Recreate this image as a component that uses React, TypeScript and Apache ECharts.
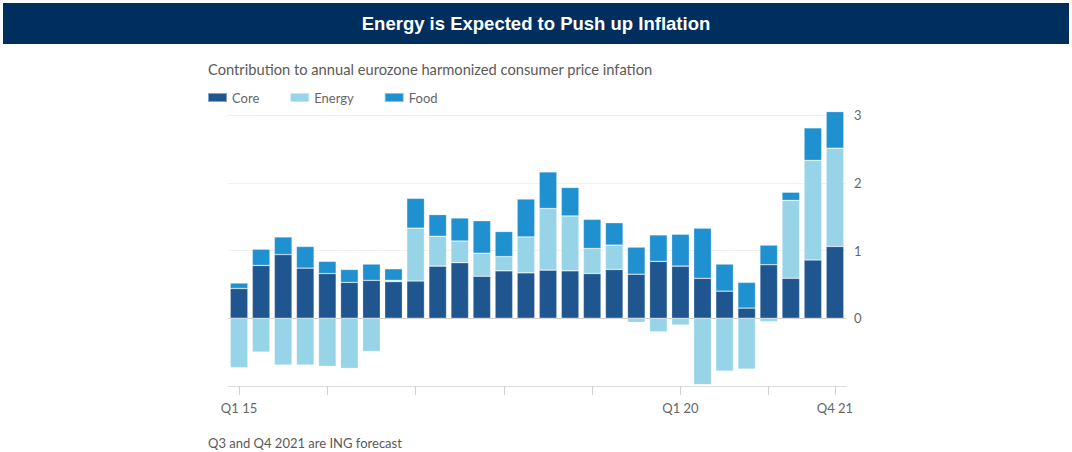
import React, { useEffect, useRef } from "react";
import * as echarts from "echarts";

const categories = [
  "Q1 15", "Q2 15", "Q3 15", "Q4 15",
  "Q1 16", "Q2 16", "Q3 16", "Q4 16",
  "Q1 17", "Q2 17", "Q3 17", "Q4 17",
  "Q1 18", "Q2 18", "Q3 18", "Q4 18",
  "Q1 19", "Q2 19", "Q3 19", "Q4 19",
  "Q1 20", "Q2 20", "Q3 20", "Q4 20",
  "Q1 21", "Q2 21", "Q3 21", "Q4 21",
];

const core = [0.44, 0.78, 0.94, 0.74, 0.66, 0.53, 0.56, 0.54, 0.55, 0.77, 0.82, 0.62, 0.70, 0.67, 0.71, 0.70, 0.66, 0.72, 0.65, 0.84, 0.77, 0.59, 0.40, 0.15, 0.79, 0.59, 0.86, 1.06];
const energy = [-0.73, -0.50, -0.69, -0.69, -0.71, -0.74, -0.49, 0.02, 0.78, 0.44, 0.32, 0.34, 0.21, 0.53, 0.91, 0.81, 0.37, 0.36, -0.06, -0.20, -0.10, -0.98, -0.78, -0.75, -0.05, 1.15, 1.47, 1.45];
const food = [0.08, 0.24, 0.26, 0.32, 0.18, 0.19, 0.24, 0.17, 0.44, 0.32, 0.34, 0.48, 0.37, 0.56, 0.54, 0.42, 0.43, 0.33, 0.40, 0.39, 0.47, 0.74, 0.40, 0.38, 0.29, 0.12, 0.48, 0.54];

const yTicks = [-1, 0, 1, 2, 3];
const tickIdx = [0, 4, 8, 12, 16, 20, 24, 27];
const labelIdx = [0, 20, 27];

const TITLE = "Energy is Expected to Push up Inflation";
const SUBTITLE = "Contribution to annual eurozone harmonized consumer price infation";
const FOOTNOTE = "Q3 and Q4 2021 are ING forecast";

const COLORS = { core: "#1f568f", energy: "#97d4e8", food: "#1f90d0" };
const FONT = "Lato, 'Open Sans', sans-serif";

export default function App() {
  const ref = useRef<HTMLDivElement>(null);
  useEffect(() => {
    if (!ref.current) return;
    const chart = echarts.init(ref.current, null, { renderer: "svg" });
    const barStyle = (c: string) => ({
      color: c,
      borderColor: "rgba(255,255,255,0.45)",
      borderWidth: 0.6,
    });
    chart.setOption({
      animation: false,
      textStyle: { fontFamily: FONT },
      graphic: [
        { type: "rect", shape: { x: 3, y: 3, width: 1066, height: 41 }, style: { fill: "#002e5d" } },
        {
          type: "text", x: 536, y: 23.5,
          style: { text: TITLE, fill: "#ffffff", font: "bold 18.5px 'Liberation Sans', Arial, sans-serif", align: "center", verticalAlign: "middle" },
        },
        {
          type: "text", x: 208, y: 69,
          style: { text: SUBTITLE, fill: "#5a5a5a", font: `14.7px ${FONT}`, verticalAlign: "middle" },
        },
        {
          type: "text", x: 208, y: 443,
          style: { text: FOOTNOTE, fill: "#5a5a5a", font: `13px ${FONT}`, verticalAlign: "middle" },
        },
      ],
      legend: {
        left: 207, top: 91, padding: 0,
        icon: "rect", itemWidth: 19, itemHeight: 9, itemGap: 30,
        textStyle: { color: "#666666", fontSize: 13, fontFamily: FONT },
        data: ["Core", "Energy", "Food"],
      },
      grid: { left: 228, right: 226, top: 115, bottom: 66 },
      xAxis: {
        type: "category",
        data: categories,
        boundaryGap: true,
        axisLine: { onZero: false, lineStyle: { color: "#e0dcd8", width: 1 } },
        axisTick: {
          show: true,
          alignWithLabel: true,
          length: 9,
          interval: (i: number) => tickIdx.includes(i),
          lineStyle: { color: "#d0d0d0", width: 1 },
        },
        axisLabel: {
          interval: (i: number) => labelIdx.includes(i),
          color: "#666666", fontSize: 13, margin: 15, fontFamily: FONT,
        },
      },
      yAxis: {
        type: "value",
        position: "right",
        min: yTicks[0],
        max: yTicks[yTicks.length - 1],
        interval: 1,
        axisLine: { show: false },
        axisTick: { show: false },
        axisLabel: {
          color: "#666666", fontSize: 13, margin: 8, fontFamily: FONT,
          formatter: (v: number) => (v < 0 ? "" : String(v)),
        },
        splitLine: { lineStyle: { color: ["#e0dcd8", "#cfcfcf", "#f3f0ed", "#f3f0ed", "#f3f0ed"], width: 1 } },
      },
      series: [
        { name: "Core", type: "bar", stack: "t", data: core, barCategoryGap: "20%", itemStyle: barStyle(COLORS.core), clip: false },
        { name: "Energy", type: "bar", stack: "t", data: energy, itemStyle: barStyle(COLORS.energy), clip: false },
        { name: "Food", type: "bar", stack: "t", data: food, itemStyle: barStyle(COLORS.food), clip: false },
      ],
    });
    return () => chart.dispose();
  }, []);
  return (
    <div
      ref={ref}
      style={{ position: "fixed", left: 0, top: 0, width: 1072, height: 452, background: "#ffffff" }}
    />
  );
}
